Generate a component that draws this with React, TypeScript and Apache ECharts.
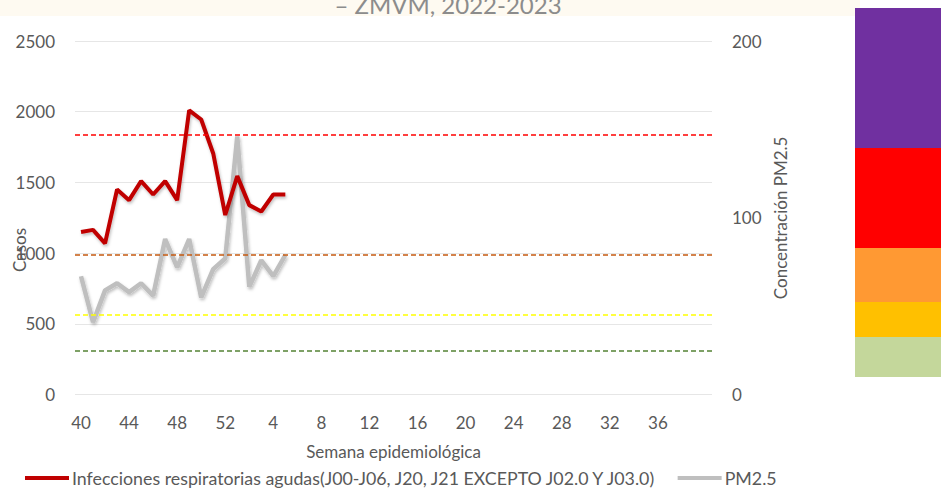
import React, { useEffect, useRef } from "react";
import * as echarts from "echarts";

const weeks = [
  "40", "41", "42", "43", "44", "45", "46", "47", "48", "49", "50", "51", "52",
  "1", "2", "3", "4", "5", "6", "7", "8", "9", "10", "11", "12", "13", "14",
  "15", "16", "17", "18", "19", "20", "21", "22", "23", "24", "25", "26", "27",
  "28", "29", "30", "31", "32", "33", "34", "35", "36", "37", "38", "39", "40",
];

const iraCases = [1150, 1165, 1070, 1450, 1375, 1510, 1415, 1510, 1375, 2010, 1945, 1705, 1270, 1545, 1340, 1295, 1415, 1415];
const pm25 = [67, 41, 59, 63, 58, 63, 56, 88, 72, 88, 55, 71, 77, 146, 61, 76, 67, 79];

const thresholds = [147, 79, 45, 25];
const thresholdColors = ["#FF0000", "#C55A11", "#FFFF00", "#548235"];

const leftTicks = [0, 500, 1000, 1500, 2000, 2500];
const rightTicks = [0, 100, 200];

const FONT = "Lato, 'Open Sans', sans-serif";
const TXT = "#595959";
const FS = 17;

export default function App() {
  const ref = useRef<HTMLDivElement>(null);
  useEffect(() => {
    if (!ref.current) return;
    const chart = echarts.init(ref.current, undefined, { renderer: "svg" });
    const option: any = {
      animation: false,
      backgroundColor: "#ffffff",
      textStyle: { fontFamily: FONT },
      grid: { left: 75, right: 229, top: 41, bottom: 94.3, containLabel: false, outerBoundsMode: "none" },
      legend: {
        left: 20,
        top: 464,
        itemWidth: 44,
        itemHeight: 4,
        itemGap: 20,
        icon: "rect",
        textStyle: { color: TXT, fontSize: 17.8, fontFamily: FONT, padding: [0, 0, 0, -2] },
        data: [
          { name: "Infecciones respiratorias agudas(J00-J06, J20, J21 EXCEPTO J02.0 Y J03.0)" },
          { name: "PM2.5" },
        ],
      },
      xAxis: {
        type: "category",
        data: weeks,
        boundaryGap: true,
        name: "Semana epidemiológica",
        nameLocation: "middle",
        nameGap: 48,
        nameTextStyle: { color: TXT, fontSize: FS, fontFamily: FONT },
        axisLine: { show: false },
        axisTick: { show: false },
        axisLabel: {
          color: TXT,
          fontSize: FS,
          fontFamily: FONT,
          margin: 19,
          interval: (i: number) => i % 4 === 0 && i < 52,
        },
        splitLine: { show: false },
      },
      yAxis: [
        {
          type: "value",
          min: leftTicks[0],
          max: leftTicks[leftTicks.length - 1],
          interval: 500,
          axisLine: { show: false },
          axisTick: { show: false },
          axisLabel: { color: TXT, fontSize: FS, fontFamily: FONT, margin: 20, formatter: (v: number) => String(v) },
          splitLine: { show: true, lineStyle: { color: "#E6E6E6", width: 1 } },
        },
        {
          type: "value",
          min: rightTicks[0],
          max: rightTicks[rightTicks.length - 1],
          interval: 100,
          name: "Concentración PM2.5",
          nameLocation: "middle",
          nameGap: 57,
          nameRotate: 90,
          nameTextStyle: { color: TXT, fontSize: FS, fontFamily: FONT },
          axisLine: { show: false },
          axisTick: { show: false },
          axisLabel: { color: TXT, fontSize: FS, fontFamily: FONT, margin: 20, formatter: (v: number) => String(v) },
          splitLine: { show: false },
        },
      ],
      series: [
        {
          name: "Infecciones respiratorias agudas(J00-J06, J20, J21 EXCEPTO J02.0 Y J03.0)",
          type: "line",
          yAxisIndex: 0,
          data: iraCases,
          showSymbol: false,
          symbol: "none",
          z: 4,
          itemStyle: { color: "#C00000" },
          lineStyle: {
            color: "#C00000",
            width: 4,
            shadowColor: "rgba(0,0,0,0.25)",
            shadowBlur: 3,
            shadowOffsetX: 1,
            shadowOffsetY: 2,
          },
        },
        {
          name: "PM2.5",
          type: "line",
          yAxisIndex: 1,
          data: pm25,
          showSymbol: false,
          symbol: "none",
          z: 3,
          itemStyle: { color: "#BFBFBF" },
          lineStyle: {
            color: "#BFBFBF",
            width: 4.5,
            shadowColor: "rgba(0,0,0,0.25)",
            shadowBlur: 3,
            shadowOffsetX: 1,
            shadowOffsetY: 2,
          },
          markLine: {
            silent: true,
            symbol: ["none", "none"],
            label: { show: false },
            data: thresholds.map((v, i) => ({
              yAxis: v,
              lineStyle: { color: thresholdColors[i], type: [5, 3], width: 1.5 },
            })),
          },
        },
      ],
      graphic: [
        { type: "rect", shape: { x: 0, y: 0, width: 860, height: 16 }, style: { fill: "#fefaf1" }, z: -1 },
        {
          type: "text",
          x: 448,
          y: 16,
          style: {
            text: "– ZMVM, 2022-2023",
            fill: "#8C8C8C",
            fontSize: 24,
            fontFamily: FONT,
            textAlign: "center",
            textVerticalAlign: "bottom",
          },
        },
        {
          type: "text",
          x: 19,
          y: 250,
          rotation: Math.PI / 2,
          style: {
            text: "Casos",
            fill: TXT,
            fontSize: FS,
            fontFamily: FONT,
            textAlign: "center",
            textVerticalAlign: "middle",
          },
        },
        { type: "rect", shape: { x: 855, y: 8, width: 86, height: 140 }, style: { fill: "#7030A0" } },
        { type: "rect", shape: { x: 855, y: 148, width: 86, height: 100 }, style: { fill: "#FF0000" } },
        { type: "rect", shape: { x: 855, y: 248, width: 86, height: 54 }, style: { fill: "#FF9933" } },
        { type: "rect", shape: { x: 855, y: 302, width: 86, height: 35 }, style: { fill: "#FFC000" } },
        { type: "rect", shape: { x: 855, y: 337, width: 86, height: 40 }, style: { fill: "#C4D79B" } },
      ],
    };
    chart.setOption(option);
    return () => chart.dispose();
  }, []);
  return <div ref={ref} style={{ width: 941, height: 489, position: "absolute", left: 0, top: 0 }} />;
}
